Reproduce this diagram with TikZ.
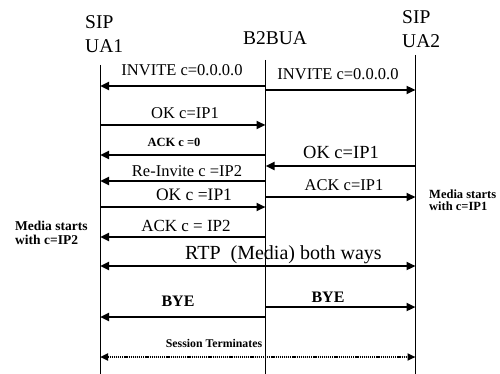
\documentclass[tikz,border=0pt]{standalone}
\usepackage{fontspec}
\setmainfont{Liberation Serif}
\usetikzlibrary{arrows.meta}
\newcommand\mklev[2]{%
  \coordinate (#1a) at (100,#2);
  \coordinate (#1b) at (265.5,#2);
  \coordinate (#1c) at (415.5,#2);}
\newcommand\fs[1]{\fontsize{#1}{#1}\selectfont}
\begin{document}
\begin{tikzpicture}[x=1pt,y=-1pt,
  life/.style={line width=1pt},
  msg/.style={line width=2.6pt,-{Triangle[length=9pt,width=8pt]}},
  both/.style={line width=2.6pt,{Triangle[length=9pt,width=8pt]}-{Triangle[length=9pt,width=8pt]}},
  dots/.style={line width=2.6pt,dash pattern=on 1.2pt off 0.9pt,{Triangle[length=8pt,width=7pt]}-{Triangle[length=8pt,width=7pt]}},
  lbl/.style={inner sep=0pt,font=\fs{16.5}},
  hdr/.style={inner sep=0pt,font=\fs{19.5}},
  note/.style={inner sep=0pt,align=left}]
\useasboundingbox (0,0) rectangle (500,374);
% headers
\node[hdr,anchor=west] (h1a) at (85,22) {SIP};
\node[hdr,anchor=west] (h1b) at (85,46) {UA1};
\node[hdr] (h2) at (275,38) {B2BUA};
\node[hdr,anchor=west] (h3a) at (402,17) {SIP};
\node[hdr,anchor=west] (h3b) at (402,41) {UA2};
% lifelines
\coordinate (u1t) at (100,65);   \coordinate (u1e) at (100,374);
\coordinate (bt) at (265.5,60);  \coordinate (be) at (265.5,374);
\coordinate (u2t) at (415.5,55); \coordinate (u2e) at (415.5,374);
\draw[life] (u1t) -- (u1e);
\draw[life] (bt) -- (be);
\draw[life] (u2t) -- (u2e);
% levels
\mklev{m1}{86}
\mklev{m2}{90}
\mklev{m3}{125}
\mklev{m4}{155}
\mklev{m5}{181}
\mklev{m6}{207}
\mklev{m7}{237}
\mklev{m8}{166}
\mklev{m9}{197}
\mklev{m10}{266}
\mklev{m11}{317}
\mklev{m12}{307}
\mklev{m13}{357}
% messages
\draw[msg] (m1b) -- (m1a);
\node[lbl] (l1) at (182,70) {INVITE c=0.0.0.0};
\draw[msg] (m2b) -- (m2c);
\node[lbl] (l2) at (338,74) {INVITE c=0.0.0.0};
\draw[msg] (m3a) -- (m3b);
\node[lbl] (l3) at (185,113) {OK c=IP1};
\draw[msg] (m4b) -- (m4a);
\node[lbl,font=\bfseries\fs{12.5}] (l4) at (174,142) {ACK c =0};
\draw[msg] (m5b) -- (m5a);
\node[lbl] (l5) at (187,171) {Re-Invite c =IP2};
\draw[msg] (m6a) -- (m6b);
\node[lbl,font=\fs{17.5}] (l6) at (194,195) {OK c =IP1};
\draw[msg] (m7b) -- (m7a);
\node[lbl,font=\fs{17}] (l7) at (186,226) {ACK c = IP2};
\draw[msg] (m8c) -- (m8b);
\node[lbl,font=\fs{18.5}] (l8) at (341,152) {OK c=IP1};
\draw[msg] (m9b) -- (m9c);
\node[lbl] (l9) at (344,185) {ACK c=IP1};
\draw[both] (m10a) -- (m10c);
\node[lbl,font=\fs{20},anchor=west] (l10) at (185,255) {RTP\ \ (Media) both ways};
\draw[msg] (m11b) -- (m11a);
\node[lbl,font=\bfseries\fs{16}] (l11) at (178,301) {BYE};
\draw[msg] (m12b) -- (m12c);
\node[lbl,font=\bfseries\fs{16}] (l12) at (328,297) {BYE};
\draw[dots] (m13a) -- (m13c);
\node[lbl,font=\bfseries\fs{11.8}] (l13) at (214,343) {Session Terminates};
% notes
\node[note,anchor=west,font=\bfseries\fs{12.5}] (n1) at (429,200) {Media starts\\with c=IP1};
\node[note,anchor=west,font=\bfseries\fs{13.5}] (n2) at (15,233) {Media starts\\with c=IP2};
\end{tikzpicture}
\end{document}
